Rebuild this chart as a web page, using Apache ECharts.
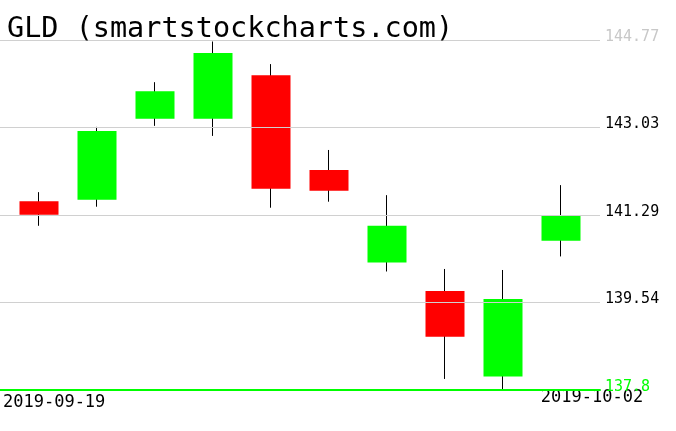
<!DOCTYPE html>
<html>
<head>
<meta charset="utf-8">
<script src="https://cdn.jsdelivr.net/npm/echarts@6/dist/echarts.min.js"></script>
<style>html,body{margin:0;padding:0;background:#fff;}#c{width:676px;height:431px;}</style>
</head>
<body>
<div id="c"></div>
<script>
var dates = ['2019-09-19','2019-09-20','2019-09-23','2019-09-24','2019-09-25','2019-09-26','2019-09-27','2019-09-30','2019-10-01','2019-10-02'];
var openV  = [141.56, 141.59, 143.20, 143.20, 144.07, 142.18, 140.34, 139.77, 138.07, 140.77];
var closeV = [141.29, 142.96, 143.75, 144.51, 141.81, 141.77, 141.07, 138.86, 139.61, 141.27];
var lowV   = [141.07, 141.45, 143.06, 142.86, 141.43, 141.55, 140.16, 138.02, 137.80, 140.46];
var highV  = [141.74, 143.04, 143.93, 144.74, 144.29, 142.58, 141.68, 140.21, 140.19, 141.88];
var yTickLabels = ['137.8', '139.54', '141.29', '143.03', '144.77'];
var yMin = 137.8, yMax = 144.77;

var ohlc = dates.map(function (d, i) { return [openV[i], closeV[i], lowV[i], highV[i]]; });
var mono = 'DejaVu Sans Mono';

var chart = echarts.init(document.getElementById('c'), null, {renderer: 'canvas'});
chart.setOption({
  animation: false,
  backgroundColor: '#fff',
  title: {
    text: 'GLD (smartstockcharts.com)',
    left: 7, top: 15, padding: 0,
    textStyle: {fontFamily: mono, fontSize: 28.5, fontWeight: 'normal', color: '#000'}
  },
  grid: [
    {left: 0, right: 76, top: 40, bottom: 41},
    {left: 10, right: 86, top: 40, bottom: 41}
  ],
  xAxis: [
    {type: 'category', gridIndex: 0, data: dates, boundaryGap: false,
     axisLine: {show: true, lineStyle: {color: '#00ff00', width: 2}},
     axisTick: {show: false}, axisLabel: {show: false}, splitLine: {show: false}, z: 4},
    {type: 'category', gridIndex: 1, data: dates,
     axisLine: {show: false}, axisTick: {show: false}, splitLine: {show: false},
     axisLabel: {
       show: true, margin: -1,
       interval: function (i) { return i === 0 || i === dates.length - 1; },
       formatter: function (v, i) { return i === 0 ? '{a|' + v + '}' : '{b|' + v + '}'; },
       rich: {
         a: {fontFamily: mono, fontSize: 17, color: '#000', padding: [5, 0, 0, 30]},
         b: {fontFamily: mono, fontSize: 17, color: '#000', padding: [0, 0, 0, 62]}
       }
     }}
  ],
  yAxis: [
    {type: 'value', gridIndex: 0, position: 'right', min: yMin, max: yMax, interval: (yMax - yMin) / 4,
     z: 3,
     axisLine: {show: false}, axisTick: {show: false},
     splitLine: {show: true, lineStyle: {color: '#d0d0d0', width: 1}},
     axisLabel: {
       show: true, margin: 5, fontFamily: mono, fontSize: 15,
       verticalAlign: 'bottom', lineHeight: 6,
       formatter: function (v, i) { return yTickLabels[i]; },
       color: function (v, i) {
         if (i === 0) return '#00ff00';
         if (i === yTickLabels.length - 1) return '#c8c8c8';
         return '#000';
       }
     }},
    {type: 'value', gridIndex: 1, min: yMin, max: yMax, show: false, splitLine: {show: false}}
  ],
  series: [
    {
      name: 'wick', type: 'candlestick', xAxisIndex: 1, yAxisIndex: 1, data: ohlc,
      barWidth: 1, z: 1,
      itemStyle: {color: '#000', color0: '#000', borderColor: '#000', borderColor0: '#000', borderWidth: 1}
    },
    {
      name: 'body', type: 'candlestick', xAxisIndex: 1, yAxisIndex: 1, data: ohlc,
      barWidth: 40, z: 2,
      itemStyle: {color: '#00ff00', color0: '#ff0000', borderColor: 'rgba(0,0,0,0)', borderColor0: 'rgba(0,0,0,0)', borderWidth: 0}
    }
  ]
});
</script>
</body>
</html>
